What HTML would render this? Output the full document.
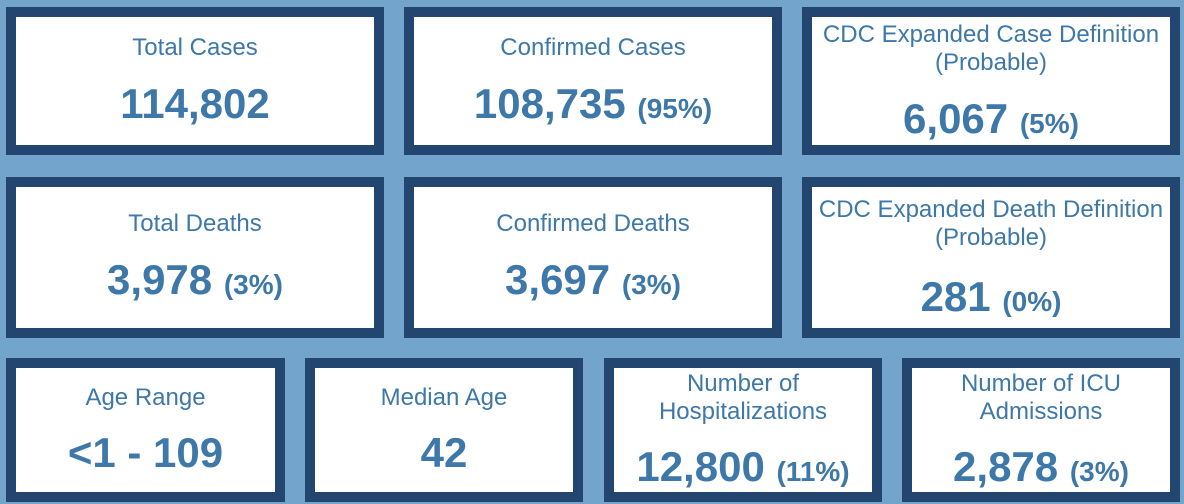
<!DOCTYPE html>
<html><head><style>
body{margin:0;width:1184px;height:504px;background:#73a4cb;position:relative;overflow:hidden;font-family:"Liberation Sans",Arial,sans-serif;color:#3d78a9}
.b{position:absolute;box-sizing:border-box;border:10px solid #22466f;background:#fff}
.t{position:absolute;left:-10px;right:-10px;text-align:center;font-size:24px;line-height:28px}
.v{position:absolute;left:0;right:0;text-align:center;font-size:42px;font-weight:bold;line-height:48px}
.v span{font-size:28px}
</style></head><body>
<div class="b" style="left:6px;top:7px;width:378px;height:148px"><div class="t" style="top:17px">Total Cases</div><div class="v" style="top:63px">114,802</div></div>
<div class="b" style="left:404px;top:7px;width:378px;height:148px"><div class="t" style="top:17px">Confirmed Cases</div><div class="v" style="top:63px">108,735 <span>(95%)</span></div></div>
<div class="b" style="left:802px;top:7px;width:378px;height:148px"><div class="t" style="top:4px">CDC Expanded Case Definition<br>(Probable)</div><div class="v" style="top:78px">6,067 <span>(5%)</span></div></div>

<div class="b" style="left:6px;top:177px;width:378px;height:161px"><div class="t" style="top:23px">Total Deaths</div><div class="v" style="top:69px">3,978 <span>(3%)</span></div></div>
<div class="b" style="left:404px;top:177px;width:378px;height:161px"><div class="t" style="top:23px">Confirmed Deaths</div><div class="v" style="top:69px">3,697 <span>(3%)</span></div></div>
<div class="b" style="left:802px;top:177px;width:378px;height:161px"><div class="t" style="top:9px">CDC Expanded Death Definition<br>(Probable)</div><div class="v" style="top:86px">281 <span>(0%)</span></div></div>

<div class="b" style="left:6px;top:358px;width:279px;height:144px"><div class="t" style="top:16px">Age Range</div><div class="v" style="top:61px">&lt;1 - 109</div></div>
<div class="b" style="left:305px;top:358px;width:278px;height:144px"><div class="t" style="top:16px">Median Age</div><div class="v" style="top:61px">42</div></div>
<div class="b" style="left:604px;top:358px;width:278px;height:144px"><div class="t" style="top:2px">Number of<br>Hospitalizations</div><div class="v" style="top:75px">12,800 <span>(11%)</span></div></div>
<div class="b" style="left:902px;top:358px;width:278px;height:144px"><div class="t" style="top:2px">Number of ICU<br>Admissions</div><div class="v" style="top:75px">2,878 <span>(3%)</span></div></div>
</body></html>
